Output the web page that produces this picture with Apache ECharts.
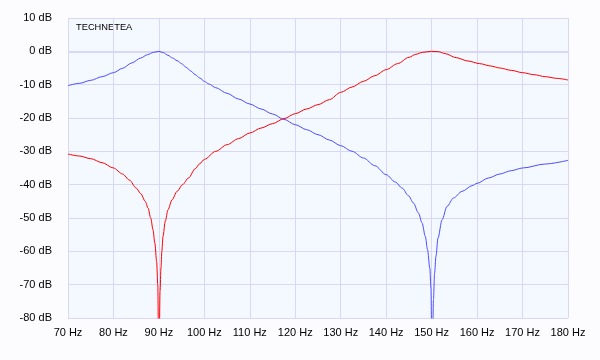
<!DOCTYPE html>
<html>
<head>
<meta charset="utf-8">
<script src="https://cdn.jsdelivr.net/npm/echarts@6/dist/echarts.min.js"></script>
<style>
html,body{margin:0;padding:0;background:#fcfcff;}
#c{width:600px;height:360px;}
</style>
</head>
<body>
<div id="c"></div>
<script>
var xTicks = [70, 80, 90, 100, 110, 120, 130, 140, 150, 160, 170, 180];
var yTicks = [-80, -70, -60, -50, -40, -30, -20, -10, 0, 10];

var blueFreq = [70, 72.5, 75, 77.5, 80, 82, 84, 86, 87.5, 88.8, 90, 91, 92, 93, 94, 95, 96, 97, 98, 99, 100, 101, 102.5, 105, 107.5, 110, 112.5, 115, 117.5, 120, 122.5, 125, 127.5, 130, 132.5, 135, 137.5, 140, 142, 143.5, 144.9, 146, 147.1, 147.9, 148.6, 149.1, 149.6, 149.85, 150.1, 150.4, 150.65, 150.95, 151.4, 152.3, 153.4, 154.8, 156.7, 158.9, 160, 162.5, 165, 167.5, 170, 175, 180];
var blueDb = [-10.3, -9.6, -8.7, -7.6, -6.4, -5.1, -3.5, -2.0, -1.0, -0.3, 0, -0.4, -1.2, -2.0, -2.8, -3.7, -4.8, -5.9, -7.0, -8.0, -9.0, -9.8, -10.9, -12.6, -14.3, -15.8, -17.3, -18.8, -20.4, -22.0, -23.5, -25.0, -26.6, -28.3, -30.0, -32.0, -34.3, -37.0, -39.2, -41, -43.3, -45.5, -48.5, -51.5, -55.5, -59.5, -65, -71, -100, -74.5, -66.5, -61.5, -56, -50.5, -46.5, -44, -42, -40.3, -39.6, -38.0, -36.8, -35.8, -35.0, -33.8, -32.7];

var redFreq = [70, 72.5, 75, 77.5, 80, 82, 83.5, 85, 86, 87, 87.6, 88.2, 88.7, 89.1, 89.5, 89.75, 90, 90.25, 90.45, 90.65, 90.9, 91.4, 92, 92.9, 94, 95.2, 96.5, 98, 99, 100, 102.5, 105, 107.5, 110, 112.5, 115, 117.5, 120, 122.5, 125, 127.5, 130, 132.5, 135, 137.5, 140, 142.5, 145, 146.5, 148, 150, 151.5, 153, 155.4, 158, 160.6, 163, 165, 167.5, 170, 172.5, 175, 177.5, 180];
var redDb = [-30.8, -31.4, -32.2, -33.4, -35, -36.8, -38.6, -41, -42.7, -45, -47, -50, -53.5, -57.5, -63, -70, -100, -72, -65, -60, -55.5, -51, -47.5, -44.5, -42, -40, -38, -35.2, -33.7, -32.4, -30, -28, -26.2, -24.5, -23, -21.7, -20.2, -18.7, -17.3, -16, -14.5, -12.3, -10.7, -9.0, -7.3, -5.5, -3.7, -1.8, -0.9, -0.3, 0, -0.1, -0.7, -1.9, -2.9, -3.7, -4.4, -5.0, -5.7, -6.4, -7.0, -7.6, -8.1, -8.6];

function pairs(xs, ys) { return xs.map(function (x, i) { return [x, ys[i]]; }); }

var gridColor = '#d8d8f6';
var chart = echarts.init(document.getElementById('c'));
chart.setOption({
  animation: false,
  backgroundColor: '#fcfcff',
  textStyle: { fontFamily: 'Liberation Sans, Arial, sans-serif' },
  grid: { left: 68, right: 32, top: 18, bottom: 42, show: true, backgroundColor: '#f4f8ff', borderWidth: 0 },
  graphic: [{
    type: 'text', left: 76, top: 23,
    style: { text: 'TECHNETEA', fill: '#000', font: '9.3px "Liberation Sans", Arial, sans-serif' }
  }],
  xAxis: {
    type: 'value', min: xTicks[0], max: xTicks[xTicks.length - 1], interval: 10,
    axisLine: { show: false }, axisTick: { show: false },
    axisLabel: { formatter: '{value} Hz', color: '#000', fontSize: 11, margin: 9 },
    splitLine: { show: true, lineStyle: { color: gridColor, width: 1 } }
  },
  yAxis: {
    type: 'value', min: yTicks[0], max: yTicks[yTicks.length - 1], interval: 10,
    axisLine: { show: false }, axisTick: { show: false },
    axisLabel: { formatter: '{value} dB', color: '#000', fontSize: 11, margin: 16 },
    splitLine: { show: true, lineStyle: { color: gridColor, width: 1 } }
  },
  series: [
    {
      type: 'line', data: [], z: 1, silent: true,
      markLine: {
        z: 1, silent: true, symbol: 'none', label: { show: false },
        lineStyle: { color: gridColor, width: 2, type: 'solid' },
        data: [{ yAxis: 0 }]
      }
    },
    {
      type: 'line', data: pairs(blueFreq, blueDb), showSymbol: false, z: 3,
      smooth: 0.3, smoothMonotone: 'x',
      lineStyle: { color: '#4d4dff', width: 1 }, itemStyle: { color: '#4d4dff' }
    },
    {
      type: 'line', data: pairs(redFreq, redDb), showSymbol: false, z: 4,
      smooth: 0.3, smoothMonotone: 'x',
      lineStyle: { color: '#ff0000', width: 1 }, itemStyle: { color: '#ff0000' }
    }
  ]
});
</script>
</body>
</html>
